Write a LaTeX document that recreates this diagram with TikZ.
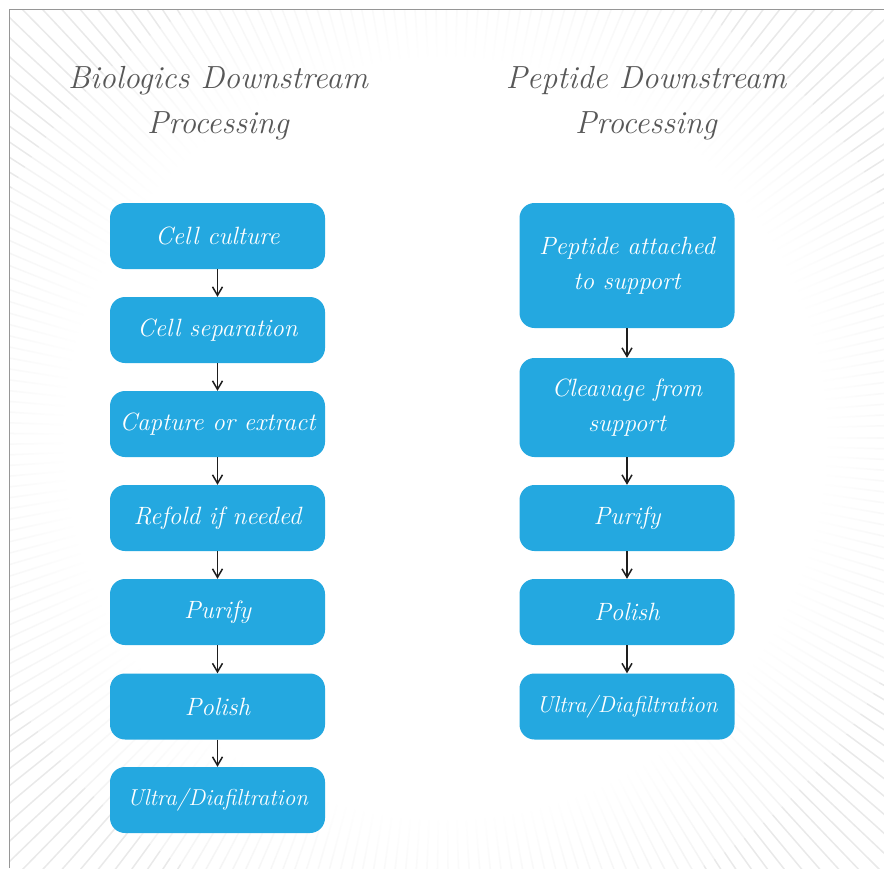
\documentclass[tikz,border=0pt]{standalone}
\usetikzlibrary{arrows.meta,fadings}
\definecolor{boxblue}{RGB}{36,168,224}
\definecolor{titlegray}{RGB}{88,88,88}
\definecolor{raygray}{RGB}{233,233,233}
\definecolor{framegray}{RGB}{150,150,150}
\definecolor{arrowink}{RGB}{30,30,30}
% white in the middle, fully transparent towards the rim
\pgfdeclareradialshading{glowshade}{\pgfpointorigin}{color(0bp)=(white); color(19bp)=(white); color(30bp)=(black); color(50bp)=(black)}
\pgfdeclarefading{centerglow}{\pgfuseshading{glowshade}}
\tikzset{
  stepbox/.style={rectangle, rounded corners=15pt, fill=boxblue,
    text=white, font=\fontsize{25}{35}\selectfont\itshape,
    minimum width=215pt, minimum height=66pt, align=center, inner sep=0pt},
  smallbox/.style={stepbox, font=\fontsize{23}{30}\selectfont\itshape},
  headline/.style={text=titlegray, font=\fontsize{32}{45}\selectfont\itshape, align=center},
  flowarrow/.style={draw=arrowink, line width=1.5pt, -{Straight Barb[length=8.5pt,width=10pt,line width=1.5pt]}}
}
\begin{document}
\begin{tikzpicture}[x=1pt,y=-1pt]
\useasboundingbox (0,0) rectangle (884,868);
% sunburst backdrop inside the frame
\begin{scope}
  \clip (9.5,9.5) rectangle (884,868);
  \foreach \a in {0,1.4,...,358.7}
    \draw[raygray, line width=1.5pt] (445,438) -- ++(\a:1000);
  \fill[white, path fading=centerglow] (445,438) circle (500);
\end{scope}
\draw[framegray, line width=1.2pt] (9.5,868) -- (9.5,9.5) -- (884,9.5);

% headings
\node[headline] (hleft) at (218,103) {Biologics Downstream\\Processing};
\node[headline] (hright) at (646,103) {Peptide Downstream\\Processing};

% biologics chain
\node[stepbox] (b1) at (217.5,236) {Cell culture};
\node[stepbox] (b2) at (217.5,330) {Cell separation};
\node[stepbox] (b3) at (217.5,424) {Capture or extract};
\node[stepbox] (b4) at (217.5,518) {Refold if needed};
\node[stepbox] (b5) at (217.5,612) {Purify};
\node[stepbox] (b6) at (217.5,706.5) {Polish};
\node[smallbox] (b7) at (217.5,800) {Ultra/Diafiltration};

% peptide chain
\node[stepbox, minimum height=125pt] (p1) at (627,265.5) {Peptide attached\\to support};
\node[stepbox, minimum height=99pt] (p2) at (627,407.5) {Cleavage from\\support};
\node[stepbox] (p3) at (627,518) {Purify};
\node[stepbox] (p4) at (627,612) {Polish};
\node[smallbox] (p5) at (627,706.5) {Ultra/Diafiltration};

\foreach \u/\v in {b1/b2,b2/b3,b3/b4,b4/b5,b5/b6,b6/b7,p1/p2,p2/p3,p3/p4,p4/p5}
  \draw[flowarrow] (\u) -- (\v);
\end{tikzpicture}
\end{document}
